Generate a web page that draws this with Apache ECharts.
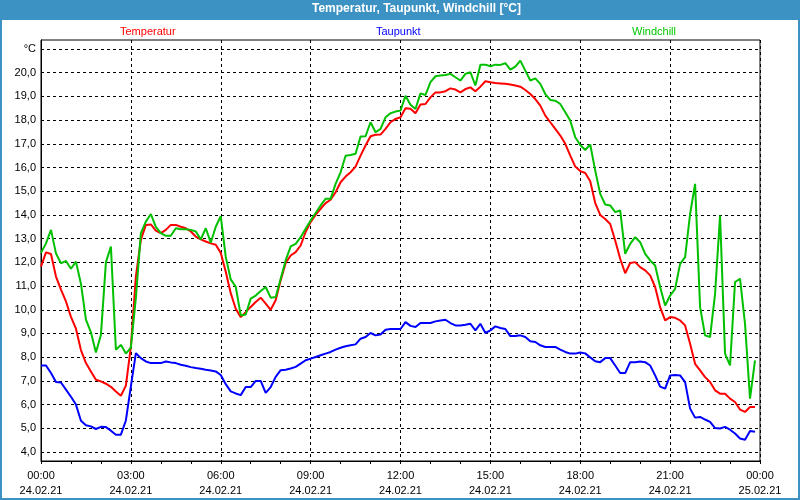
<!DOCTYPE html>
<html>
<head>
<meta charset="utf-8">
<script src="https://cdn.jsdelivr.net/npm/echarts@6/dist/echarts.min.js"></script>
<style>html,body{margin:0;padding:0;background:#fff}#c{width:800px;height:500px}</style>
</head>
<body>
<div id="c"></div>
<script>
// 10-minute readings, 24.02.21 00:00 .. 23:50
const temperatur = [
 11.82,12.42,12.35,11.4,10.85,10.35,
 9.7,9.2,8.3,7.75,7.4,7.05,
 6.98,6.88,6.75,6.55,6.37,6.8,
 8.45,11.4,12.95,13.58,13.6,13.34,
 13.23,13.37,13.58,13.58,13.5,13.44,
 13.3,13.09,12.97,12.88,12.8,12.74,
 12.4,11.6,10.7,10.04,9.69,9.9,
 10.12,10.33,10.51,10.26,10.0,10.4,
 11.24,11.97,12.29,12.43,12.71,13.28,
 13.7,14.0,14.26,14.5,14.64,14.96,
 15.38,15.62,15.8,16.04,16.5,16.93,
 17.32,17.38,17.39,17.63,17.91,18.05,
 18.12,18.5,18.48,18.29,18.66,18.68,
 18.96,19.17,19.17,19.22,19.34,19.29,
 19.17,19.31,19.38,19.22,19.41,19.64,
 19.6,19.57,19.55,19.53,19.5,19.46,
 19.41,19.27,19.1,18.89,18.61,18.19,
 17.91,17.63,17.35,17.0,16.5,16.04,
 15.85,15.77,15.42,14.5,14.0,13.83,
 13.62,12.92,12.15,11.54,11.97,12.01,
 11.8,11.66,11.45,10.96,10.11,9.55,
 9.69,9.66,9.55,9.34,8.57,7.72,
 7.44,7.16,6.95,6.6,6.46,6.46,
 6.25,6.11,5.79,5.69,5.9,5.9
];
const taupunkt = [
 7.65,7.65,7.33,6.95,6.93,6.63,
 6.33,6.0,5.32,5.13,5.08,4.97,
 5.06,5.05,4.9,4.73,4.73,5.33,
 6.77,8.17,7.96,7.82,7.75,7.75,
 7.75,7.82,7.78,7.75,7.68,7.64,
 7.58,7.54,7.51,7.47,7.44,7.4,
 7.25,6.86,6.56,6.47,6.4,6.74,
 6.74,7.0,7.0,6.49,6.74,7.17,
 7.45,7.47,7.52,7.59,7.73,7.87,
 7.94,8.01,8.08,8.15,8.22,8.32,
 8.4,8.46,8.5,8.54,8.78,8.85,
 9.02,8.92,8.96,9.16,9.19,9.19,
 9.19,9.48,9.32,9.27,9.44,9.44,
 9.44,9.51,9.55,9.58,9.44,9.34,
 9.34,9.37,9.41,9.13,9.41,9.02,
 9.13,9.3,9.23,9.19,8.89,8.89,
 8.92,8.85,8.67,8.64,8.5,8.43,
 8.43,8.43,8.32,8.22,8.15,8.15,
 8.2,8.16,7.99,7.83,7.79,7.96,
 7.96,7.65,7.33,7.33,7.79,7.79,
 7.82,7.79,7.65,7.23,6.76,6.67,
 7.23,7.25,7.23,6.95,5.83,5.45,
 5.48,5.37,5.27,5.01,4.99,5.06,
 4.94,4.78,4.57,4.52,4.89,4.85
];
const windchill = [
 12.4,12.8,13.37,12.38,11.96,12.06,
 11.73,12.03,11.1,9.58,9.05,8.2,
 8.94,12.0,12.67,8.31,8.52,8.15,
 8.4,10.5,13.23,13.72,14.04,13.5,
 13.23,13.12,13.12,13.44,13.4,13.4,
 13.37,13.3,12.97,13.44,12.83,13.5,
 13.95,12.23,11.28,10.97,9.76,9.8,
 10.47,10.6,10.79,10.96,10.51,10.54,
 11.31,12.08,12.67,12.78,13.06,13.42,
 13.77,14.08,14.4,14.68,14.68,15.31,
 15.8,16.5,16.53,16.58,17.31,17.32,
 17.91,17.49,17.63,18.12,18.29,18.36,
 18.4,19.03,18.65,18.47,19.13,19.06,
 19.6,19.85,19.88,19.9,19.95,19.81,
 19.67,19.95,20.02,19.46,20.34,20.34,
 20.27,20.34,20.33,20.4,20.13,20.26,
 20.51,20.09,19.67,19.76,19.53,19.1,
 18.85,18.82,18.68,18.33,17.98,17.28,
 16.95,16.74,16.97,15.87,14.89,14.44,
 14.4,14.12,14.19,12.36,12.78,13.06,
 12.85,12.36,12.08,11.87,10.96,10.18,
 10.6,10.88,11.94,12.22,14.04,15.31,
 10.11,8.92,8.85,10.67,13.97,8.15,
 7.65,11.17,11.31,9.41,6.25,7.87
];
const yTicks = [4,5,6,7,8,9,10,11,12,13,14,15,16,17,18,19,20,21];
const xTickLabels = {0:'00:00\n24.02.21',3:'03:00\n24.02.21',6:'06:00\n24.02.21',9:'09:00\n24.02.21',12:'12:00\n24.02.21',15:'15:00\n24.02.21',18:'18:00\n24.02.21',21:'21:00\n24.02.21',24:'00:00\n25.02.21'};

const FONT = 'Liberation Sans';
const hours = temperatur.map((_, i) => i / 6); // 10-minute steps in hours
const pairs = arr => arr.map((v, i) => [hours[i], v]);

const chart = echarts.init(document.getElementById('c'), null, {renderer: 'canvas'});
const legendBase = {top: 21, itemWidth: 0, itemHeight: 0, icon: 'rect', selectedMode: false};
chart.setOption({
  animation: false,
  backgroundColor: '#ffffff',
  title: {
    text: 'Temperatur, Taupunkt, Windchill [°C]',
    left: 312, top: 3, padding: 0,
    textStyle: {color: '#ffffff', fontFamily: FONT, fontSize: 12, fontWeight: 'bold'}
  },
  graphic: [
    {type: 'rect', z: -10, shape: {x: 0, y: 0, width: 800, height: 20}, style: {fill: '#3D92C4'}},
    {type: 'rect', z: -10, shape: {x: 1, y: 1, width: 798, height: 498}, style: {fill: 'none', stroke: '#3D92C4', lineWidth: 2}}
  ],
  legend: [
    Object.assign({}, legendBase, {left: 110, data: ['Temperatur'], textStyle: {color: '#FF0000', fontFamily: FONT, fontSize: 11}}),
    Object.assign({}, legendBase, {left: 366, data: ['Taupunkt'], textStyle: {color: '#0000FF', fontFamily: FONT, fontSize: 11}}),
    Object.assign({}, legendBase, {left: 622, data: ['Windchill'], textStyle: {color: '#00C800', fontFamily: FONT, fontSize: 11}})
  ],
  grid: {left: 41, right: 40, top: 40, bottom: 39, show: true, borderColor: '#000', borderWidth: 1, containLabel: false},
  xAxis: {
    type: 'value', min: 0, max: 24, interval: 3,
    axisLine: {show: true, lineStyle: {color: '#000', width: 1}},
    axisTick: {show: true, length: 3, lineStyle: {color: '#000'}},
    minorTick: {show: true, splitNumber: 3, length: 3, lineStyle: {color: '#000'}},
    splitLine: {show: true, lineStyle: {color: '#000', type: [3, 3], width: 1}},
    axisLabel: {
      margin: 7, color: '#000', fontFamily: FONT, fontSize: 11, lineHeight: 15,
      formatter: v => xTickLabels[v] || ''
    }
  },
  yAxis: {
    type: 'value', min: 3.62, max: 21.38,
    axisLine: {show: true, lineStyle: {color: '#000', width: 1}},
    axisTick: {show: false, customValues: yTicks},
    splitLine: {show: true, lineStyle: {color: '#000', type: [3, 3], width: 1}},
    axisLabel: {
      customValues: yTicks, margin: 5, color: '#000', fontFamily: FONT, fontSize: 11,
      formatter: v => v === 21 ? '°C' : v.toFixed(1).replace('.', ',')
    }
  },
  series: [
    {name: 'Temperatur', type: 'line', data: pairs(temperatur), showSymbol: false, color: '#FF0000', lineStyle: {width: 2, color: '#FF0000'}},
    {name: 'Taupunkt', type: 'line', data: pairs(taupunkt), showSymbol: false, color: '#0000FF', lineStyle: {width: 2, color: '#0000FF'}},
    {name: 'Windchill', type: 'line', data: pairs(windchill), showSymbol: false, color: '#00C000', lineStyle: {width: 2, color: '#00C000'}}
  ]
});
</script>
</body>
</html>
